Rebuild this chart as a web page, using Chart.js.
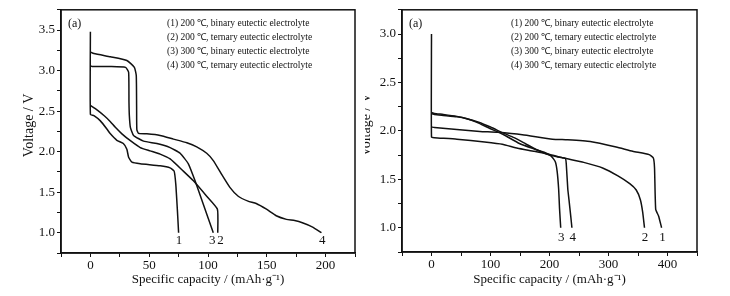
<!DOCTYPE html>
<html>
<head>
<meta charset="utf-8">
<script src="https://cdn.jsdelivr.net/npm/chart.js@4.4.1/dist/chart.umd.min.js"></script>
<style>
  html, body { margin: 0; padding: 0; background: #fff; }
  .panel { position: absolute; top: 0; width: 365px; height: 296px; }
</style>
</head>
<body>
<div class="panel" style="left:0"><canvas id="leftChart" width="365" height="296"></canvas></div>
<div class="panel" style="left:365px"><canvas id="rightChart" width="365" height="296"></canvas></div>
<script>
// left panel: discharge curves
const leftCap1 = [0, 0, 3, 8.5, 14, 17, 22.5, 28, 31, 32.5, 35.3, 42.4, 59.3, 67.8, 71.2, 72.6, 74, 75];
const leftVolt1 = [3.48, 2.46, 2.445, 2.38, 2.28, 2.22, 2.14, 2.10, 2.03, 1.93, 1.87, 1.85, 1.825, 1.80, 1.76, 1.60, 1.27, 1.0];
const leftCap2 = [0, 4.2, 12, 17, 21.2, 26.8, 34, 42.4, 50.8, 59.3, 67.8, 79, 87.6, 98.9, 108, 108.3];
const leftVolt2 = [2.57, 2.53, 2.44, 2.37, 2.30, 2.22, 2.135, 2.05, 2.01, 1.97, 1.91, 1.76, 1.64, 1.45, 1.29, 1.0];
const leftCap3 = [0, 1.4, 17, 29.9, 32.5, 32.8, 33.1, 34, 36.7, 45.2, 56.5, 67.8, 76.3, 83.3, 89, 96, 104.5];
const leftVolt3 = [3.06, 3.05, 3.05, 3.04, 2.98, 2.61, 2.45, 2.30, 2.20, 2.13, 2.10, 2.05, 1.98, 1.85, 1.64, 1.35, 1.0];
const leftCap4 = [0, 3, 17, 31, 37.4, 39, 39.3, 39.5, 41, 48, 59.3, 70.6, 82, 90.4, 98.9, 104.5, 111.6, 118.6, 125.7, 134, 141, 149.7, 158, 166.7, 173.7, 180.8, 189, 196.5];
const leftVolt4 = [3.23, 3.21, 3.17, 3.125, 3.04, 2.94, 2.55, 2.27, 2.225, 2.22, 2.20, 2.155, 2.11, 2.06, 1.98, 1.89, 1.72, 1.56, 1.45, 1.39, 1.36, 1.29, 1.21, 1.165, 1.15, 1.12, 1.07, 1.0];
const leftLabelCaps = [75.4, 110.7, 103.7, 197.2];

// right panel
const rightCap1 = [0, 5, 43, 82, 112, 154, 205, 230, 269, 313, 341, 369, 376, 378, 380, 385, 390];
const rightVolt1 = [2.04, 2.035, 2.015, 1.995, 1.985, 1.96, 1.915, 1.908, 1.89, 1.834, 1.79, 1.755, 1.72, 1.62, 1.19, 1.12, 1.0];
const rightCap2 = [0, 0, 5, 43, 90, 120, 146, 174, 202, 224, 258, 291, 316, 336, 347, 354, 358, 361];
const rightVolt2 = [3.0, 1.935, 1.93, 1.915, 1.885, 1.862, 1.82, 1.79, 1.755, 1.72, 1.675, 1.615, 1.535, 1.455, 1.39, 1.29, 1.16, 1.0];
const rightCap3 = [0, 5, 20, 43, 60, 76, 99, 121, 149, 171, 191, 203, 210, 213, 215.5, 217, 219];
const rightVolt3 = [2.19, 2.18, 2.17, 2.15, 2.125, 2.09, 2.025, 1.965, 1.87, 1.82, 1.78, 1.74, 1.68, 1.58, 1.40, 1.2, 1.0];
const rightCap4 = [0, 5, 20, 43, 60, 80, 100, 121, 140, 160, 180, 200, 215, 227, 228.5, 231, 233, 236, 238];
const rightVolt4 = [2.18, 2.17, 2.16, 2.145, 2.125, 2.09, 2.04, 1.98, 1.93, 1.865, 1.80, 1.75, 1.73, 1.715, 1.65, 1.40, 1.29, 1.12, 1.0];
const rightLabelCaps = [391.6, 362, 219.8, 239.3];

const curveNames = ["1", "2", "3", "4"];
const legendLines = [
  "(1) 200 \u2103, binary eutectic electrolyte",
  "(2) 200 \u2103, ternary eutectic electrolyte",
  "(3) 300 \u2103, binary eutectic electrolyte",
  "(4) 300 \u2103, ternary eutectic electrolyte"
];

const serif = "'Liberation Serif', 'Times New Roman', serif";

function pts(xs, ys) {
  return xs.map((x, i) => ({ x: x, y: ys[i] }));
}

function lineSet(xs, ys) {
  return {
    data: pts(xs, ys),
    borderColor: "#111",
    borderWidth: 1.5,
    pointRadius: 0,
    tension: 0.15,
    fill: false
  };
}

// frame, legend text, curve numbers and axis titles
const decorate = {
  id: "decorate",
  afterDraw(chart) {
    const o = chart.options.plugins.decorate;
    const ctx = chart.ctx;
    const a = chart.chartArea;
    const xs = chart.scales.x;
    const ys = chart.scales.y;
    ctx.save();
    ctx.strokeStyle = "#111";
    ctx.lineWidth = 1.5;
    ctx.strokeRect(a.left, a.top, a.right - a.left, a.bottom - a.top);

    ctx.fillStyle = "#111";
    ctx.textBaseline = "middle";
    ctx.textAlign = "left";
    ctx.font = "12px " + serif;
    ctx.fillText("(a)", a.left + 7, a.top + 14);

    ctx.font = "9.5px " + serif;
    legendLines.forEach((t, i) => {
      ctx.fillText(t, o.legendX, a.top + 14 + i * 14);
    });

    ctx.font = "13px " + serif;
    ctx.textAlign = "center";
    o.labelCaps.forEach((c, i) => {
      ctx.fillText(curveNames[i], xs.getPixelForValue(c), ys.getPixelForValue(0.9));
    });

    ctx.font = "13px " + serif;
    ctx.fillText("Specific capacity / (mAh\u00b7g\u207b\u00b9)", (a.left + a.right) / 2, 280);
    ctx.font = "14px " + serif;
    ctx.translate(o.yTitleX, (a.top + a.bottom) / 2 - 6);
    ctx.rotate(-Math.PI / 2);
    ctx.fillText("Voltage / V", 0, 0);
    ctx.restore();
  }
};

function makeChart(id, sets, xMin, xMax, xStep, yMax, leftW, padRight, padBottom, extra) {
  const tickFont = { family: serif, size: 13 };
  return new Chart(document.getElementById(id), {
    type: "line",
    data: { datasets: sets },
    options: {
      responsive: false,
      animation: false,
      layout: { padding: { top: 9, right: padRight, left: 0, bottom: 0 } },
      plugins: {
        legend: { display: false },
        tooltip: { enabled: false },
        decorate: extra
      },
      scales: {
        x: {
          type: "linear",
          min: xMin,
          max: xMax,
          afterFit: s => { s.height = padBottom; },
          border: { color: "#111", width: 1.5 },
          grid: { drawOnChartArea: false, tickLength: 4, color: "#111" },
          ticks: {
            stepSize: xStep,
            autoSkip: false,
            maxRotation: 0,
            padding: 1,
            color: "#111",
            font: tickFont,
            callback: v => (Math.round(v / (xStep * 2)) * xStep * 2 === v ? v : "")
          }
        },
        y: {
          type: "linear",
          min: 0.75,
          max: yMax,
          afterFit: s => { s.width = leftW; },
          border: { color: "#111", width: 1.5 },
          grid: { drawOnChartArea: false, tickLength: 4, color: "#111" },
          ticks: {
            stepSize: 0.25,
            autoSkip: false,
            padding: 2,
            color: "#111",
            font: tickFont,
            callback: v => (Math.abs(v * 2 - Math.round(v * 2)) < 1e-6 ? v.toFixed(1) : "")
          }
        }
      }
    },
    plugins: [decorate]
  });
}

makeChart("leftChart",
  [lineSet(leftCap1, leftVolt1), lineSet(leftCap2, leftVolt2), lineSet(leftCap3, leftVolt3), lineSet(leftCap4, leftVolt4)],
  -25, 225, 25, 3.75, 61, 10, 43,
  { legendX: 167, labelCaps: leftLabelCaps, yTitleX: 29 });

makeChart("rightChart",
  [lineSet(rightCap1, rightVolt1), lineSet(rightCap2, rightVolt2), lineSet(rightCap3, rightVolt3), lineSet(rightCap4, rightVolt4)],
  -50, 450, 50, 3.25, 37, 33, 44,
  { legendX: 146, labelCaps: rightLabelCaps, yTitleX: 1 });
</script>
</body>
</html>
